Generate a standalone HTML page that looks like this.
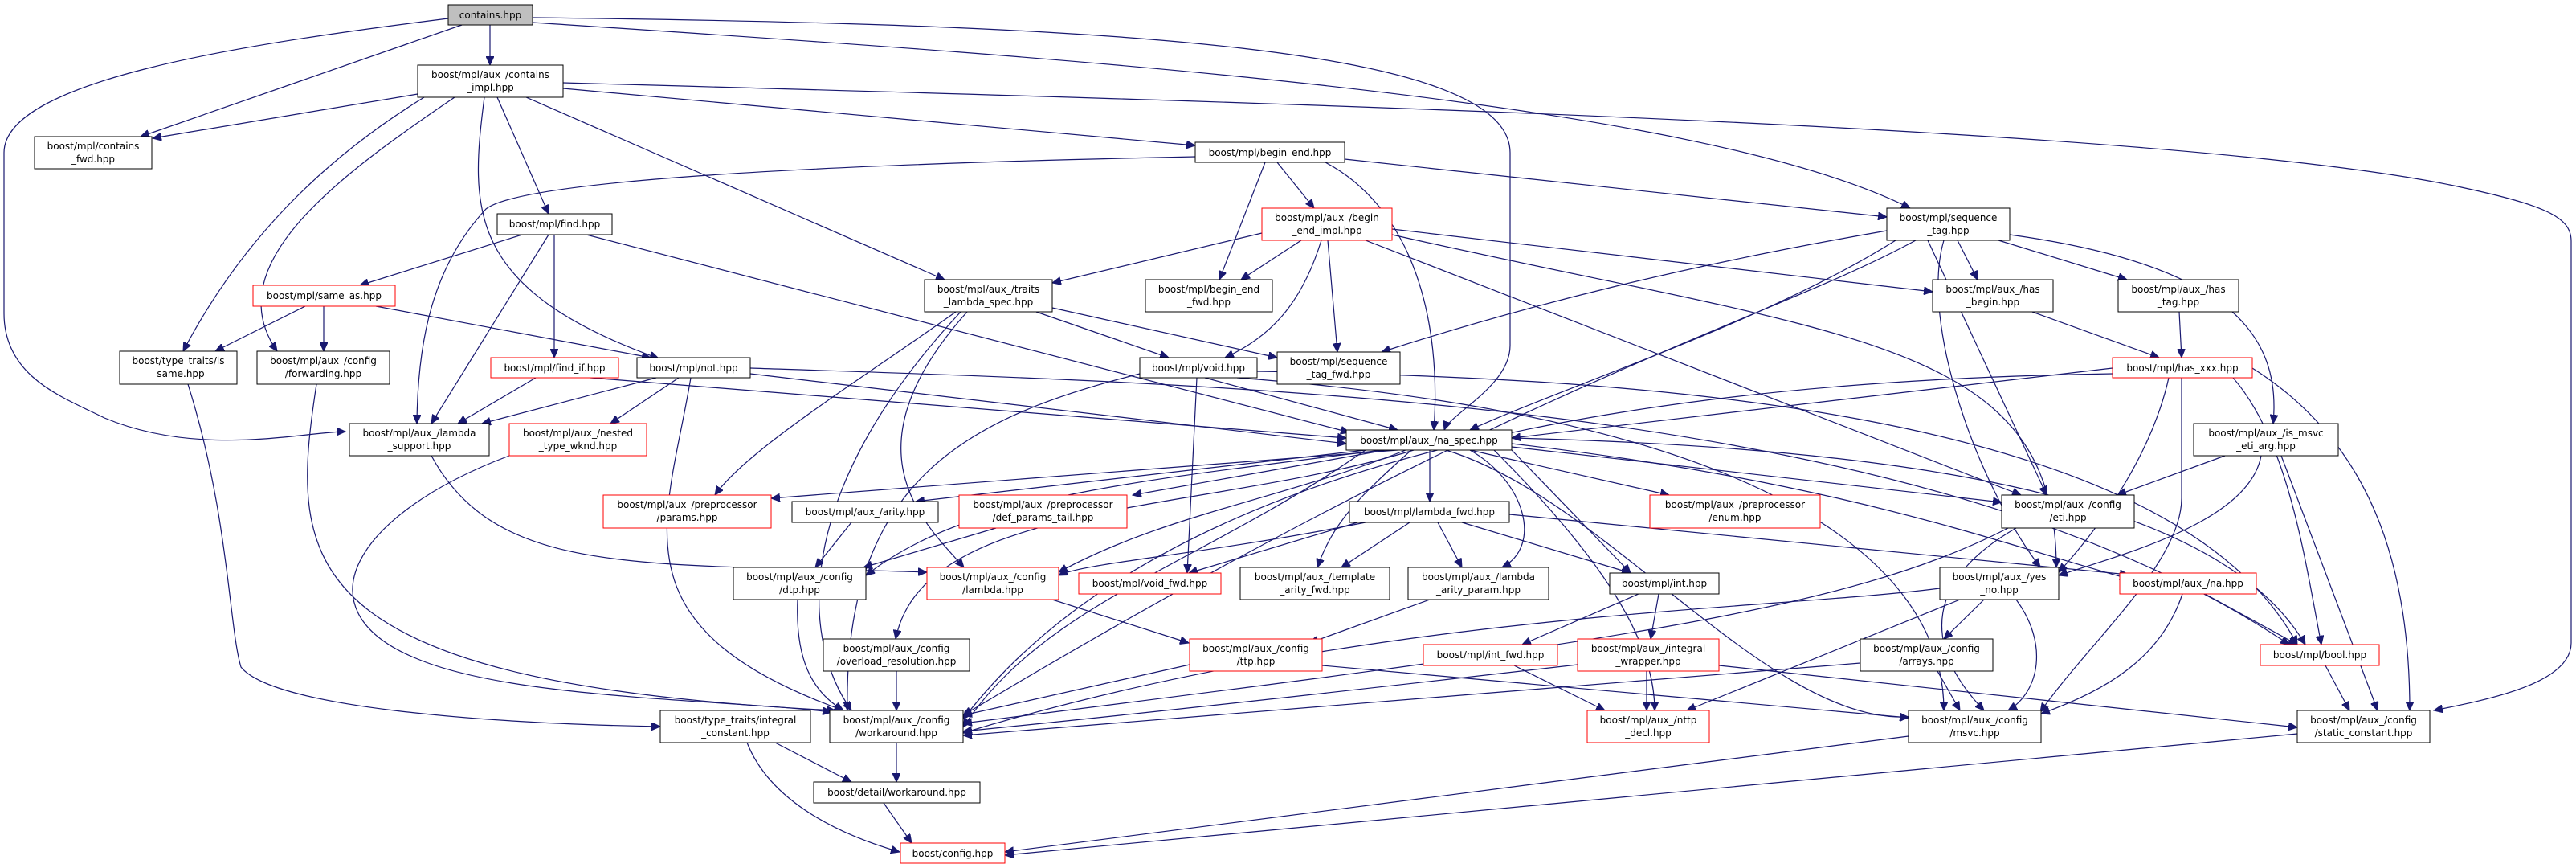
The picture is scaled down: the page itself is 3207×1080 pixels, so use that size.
<!DOCTYPE html>
<html><head><meta charset="utf-8"><style>
html,body{margin:0;padding:0;background:#fff;}
svg{display:block;}
text{font-family:"DejaVu Sans","Liberation Sans",sans-serif;font-size:12px;fill:#000;}
.n{fill:#fff;stroke:#000;stroke-width:1;}
.r{fill:#fff;stroke:#ff0000;stroke-width:1;}
.g{fill:#bfbfbf;stroke:#000;stroke-width:1;}
.e path{fill:none;stroke:#191970;stroke-width:1.2;marker-end:url(#ah);}
</style></head><body>
<svg width="3207" height="1080" xmlns="http://www.w3.org/2000/svg">
<defs><marker id="ah" markerUnits="userSpaceOnUse" markerWidth="12" markerHeight="10" refX="11" refY="5" orient="auto"><path d="M0,0 L11,5 L0,10 z" fill="#191970" stroke="#191970"/></marker></defs>
<g class="e">
<path d="M610,31 L610,81"/>
<path d="M575,31 L175,170"/>
<path d="M558,23 C300,55 5,100 5,190 L5,390 C5,470 80,495 130,520 C250,570 380,537 430,537"/>
<path d="M663,22 C1400,30 1880,60 1880,190 L1880,430 C1880,480 1805,515 1798,535"/>
<path d="M663,28 C1300,70 2100,120 2378,259"/>
<path d="M520,117 L190,172"/>
<path d="M528,121 C400,200 300,300 228,437"/>
<path d="M566,121 C420,220 270,330 345,437"/>
<path d="M603,121 C585,260 580,360 820,446"/>
<path d="M619,121 L683,266"/>
<path d="M655,121 L1176,348"/>
<path d="M701,110 L1488,181"/>
<path d="M701,103 C1700,130 2700,160 3050,230 C3170,255 3201,270 3201,300 L3201,800 C3201,850 3100,870 3030,884"/>
<path d="M650,292 L448,355"/>
<path d="M683,292 L537,527"/>
<path d="M690,292 L690,445"/>
<path d="M730,292 L1680,538"/>
<path d="M380,381 L268,437"/>
<path d="M403,381 L403,437"/>
<path d="M468,381 L810,445"/>
<path d="M234,478 C285,640 285,780 300,830 C340,880 600,900 822,904"/>
<path d="M394,478 C360,700 360,850 1040,884"/>
<path d="M667,470 L570,527"/>
<path d="M735,470 L1676,545"/>
<path d="M817,470 L600,527"/>
<path d="M845,470 L760,527"/>
<path d="M860,470 C830,650 760,780 1050,884"/>
<path d="M934,465 L1676,552"/>
<path d="M934,458 C1600,480 2400,500 2850,802"/>
<path d="M537,567 C620,720 800,700 1154,712"/>
<path d="M634,567 C440,640 370,760 520,820 C640,870 900,870 1035,886"/>
<path d="M1590,202 L1636,259"/>
<path d="M1575,202 L1518,348"/>
<path d="M1674,198 L2349,270"/>
<path d="M1488,195 C1000,205 650,225 605,260 C540,330 520,420 519,527"/>
<path d="M1650,202 C1760,260 1795,400 1785,535"/>
<path d="M1571,290 L1310,352"/>
<path d="M1620,299 L1545,348"/>
<path d="M1645,299 C1620,380 1580,420 1525,445"/>
<path d="M1653,299 L1665,438"/>
<path d="M1733,285 L2406,363"/>
<path d="M1700,299 L2516,616"/>
<path d="M1733,292 C2300,420 2560,420 2560,706"/>
<path d="M1290,388 L1455,445"/>
<path d="M1310,383 L1590,445"/>
<path d="M1190,388 C1060,480 930,560 890,616"/>
<path d="M1196,388 C980,620 1000,800 1060,884"/>
<path d="M1204,388 C1050,560 1150,650 1200,706"/>
<path d="M2349,287 C2100,330 1900,380 1720,438"/>
<path d="M2360,299 C2200,400 1950,480 1830,535"/>
<path d="M2437,299 L2462,348"/>
<path d="M2488,299 L2648,348"/>
<path d="M2502,292 C2780,330 2840,420 2830,527"/>
<path d="M2400,299 L2548,616"/>
<path d="M2420,299 C2390,400 2460,600 2540,706"/>
<path d="M2385,299 C2200,400 1900,470 1199,890"/>
<path d="M2530,388 L2688,445"/>
<path d="M2713,388 L2716,445"/>
<path d="M2630,458 L1882,545"/>
<path d="M2700,470 C2680,560 2620,650 2563,712"/>
<path d="M2780,470 C2850,550 2870,700 2890,802"/>
<path d="M2804,458 C2950,550 3000,700 3000,884"/>
<path d="M2716,470 L2716,620 C2716,700 2600,800 2540,886"/>
<path d="M2630,465 C2300,470 1500,500 1199,895"/>
<path d="M1500,470 L1740,535"/>
<path d="M1490,470 L1478,713"/>
<path d="M1419,465 C1200,520 1050,600 1055,884"/>
<path d="M1565,462 C2000,470 2700,500 2860,802"/>
<path d="M1540,470 C2200,520 2420,700 2420,884"/>
<path d="M2770,567 L2636,616"/>
<path d="M2815,567 C2800,650 2640,690 2563,716"/>
<path d="M2840,567 L2960,884"/>
<path d="M1740,560 L960,620"/>
<path d="M1700,560 L1140,624"/>
<path d="M1725,560 L1410,616"/>
<path d="M1830,560 L2078,616"/>
<path d="M1882,556 L2492,625"/>
<path d="M1780,560 L1780,624"/>
<path d="M1750,560 C1600,620 1450,640 1318,712"/>
<path d="M1720,560 C1400,600 1200,620 1078,716"/>
<path d="M1757,560 C1690,620 1660,650 1640,706"/>
<path d="M1830,560 C1900,600 1920,680 1870,706"/>
<path d="M1882,560 L2030,713"/>
<path d="M1882,552 C2300,600 2500,680 2650,720"/>
<path d="M1882,545 C2500,560 2780,650 2870,802"/>
<path d="M1700,560 C1500,700 1300,750 1199,905"/>
<path d="M1860,560 C2000,700 2060,800 2060,884"/>
<path d="M1800,560 C2000,620 2200,900 2376,892"/>
<path d="M1760,560 C1500,640 1150,620 1115,795"/>
<path d="M1060,650 L1015,706"/>
<path d="M1240,657 L1075,706"/>
<path d="M1690,650 L1480,713"/>
<path d="M1755,650 L1670,706"/>
<path d="M1790,650 L1820,706"/>
<path d="M1820,650 L2030,713"/>
<path d="M1700,650 C1500,690 1350,700 1318,716"/>
<path d="M1879,640 L2650,715"/>
<path d="M1310,746 L1480,800"/>
<path d="M1780,746 L1630,800"/>
<path d="M2040,739 L1895,802"/>
<path d="M2065,739 L2055,795"/>
<path d="M1481,827 L1199,890"/>
<path d="M1646,828 L2376,893"/>
<path d="M1885,828 L1998,884"/>
<path d="M2050,835 L2050,884"/>
<path d="M1964,827 C1500,880 1300,900 1199,910"/>
<path d="M2140,828 L2860,905"/>
<path d="M2510,657 C2400,720 2390,800 2470,884"/>
<path d="M2500,657 C2300,760 2000,800 1199,900"/>
<path d="M2470,746 L2420,795"/>
<path d="M2510,746 C2550,800 2540,860 2500,884"/>
<path d="M2440,746 L2100,884"/>
<path d="M2415,732 C2200,760 1700,760 1199,912"/>
<path d="M2412,835 L2440,884"/>
<path d="M2316,825 L1199,915"/>
<path d="M2745,739 L2860,802"/>
<path d="M2717,739 C2690,820 2620,860 2541,888"/>
<path d="M2895,828 L2925,884"/>
<path d="M993,746 C990,820 1010,860 1050,884"/>
<path d="M1116,835 L1116,884"/>
<path d="M1116,924 L1116,973"/>
<path d="M965,924 L1060,973"/>
<path d="M930,924 C960,1000 1050,1040 1120,1060"/>
<path d="M1100,999 L1135,1049"/>
<path d="M2376,916 L1251,1060"/>
<path d="M2860,913 L1251,1064"/>
</g>
<g>
<rect class="g" x="558" y="6" width="105" height="25"/><text x="610.5" y="23" text-anchor="middle">contains.hpp</text>
<rect class="n" x="520" y="81" width="181" height="40"/><text x="610.5" y="97" text-anchor="middle">boost/mpl/aux_/contains</text><text x="610.5" y="113" text-anchor="middle">_impl.hpp</text>
<rect class="n" x="43" y="170" width="146" height="40"/><text x="116" y="186" text-anchor="middle">boost/mpl/contains</text><text x="116" y="202" text-anchor="middle">_fwd.hpp</text>
<rect class="n" x="619" y="266" width="143" height="26"/><text x="690.5" y="283" text-anchor="middle">boost/mpl/find.hpp</text>
<rect class="r" x="315" y="355" width="177" height="26"/><text x="403.5" y="372" text-anchor="middle">boost/mpl/same_as.hpp</text>
<rect class="n" x="149" y="437" width="146" height="41"/><text x="222" y="453" text-anchor="middle">boost/type_traits/is</text><text x="222" y="469" text-anchor="middle">_same.hpp</text>
<rect class="n" x="320" y="437" width="165" height="41"/><text x="402.5" y="453" text-anchor="middle">boost/mpl/aux_/config</text><text x="402.5" y="469" text-anchor="middle">/forwarding.hpp</text>
<rect class="r" x="611" y="445" width="159" height="25"/><text x="690.5" y="462" text-anchor="middle">boost/mpl/find_if.hpp</text>
<rect class="n" x="793" y="445" width="141" height="25"/><text x="863.5" y="462" text-anchor="middle">boost/mpl/not.hpp</text>
<rect class="n" x="435" y="527" width="174" height="40"/><text x="522" y="543" text-anchor="middle">boost/mpl/aux_/lambda</text><text x="522" y="559" text-anchor="middle">_support.hpp</text>
<rect class="r" x="634" y="527" width="171" height="40"/><text x="719.5" y="543" text-anchor="middle">boost/mpl/aux_/nested</text><text x="719.5" y="559" text-anchor="middle">_type_wknd.hpp</text>
<rect class="n" x="1488" y="177" width="186" height="25"/><text x="1581" y="194" text-anchor="middle">boost/mpl/begin_end.hpp</text>
<rect class="r" x="1571" y="259" width="162" height="40"/><text x="1652" y="275" text-anchor="middle">boost/mpl/aux_/begin</text><text x="1652" y="291" text-anchor="middle">_end_impl.hpp</text>
<rect class="n" x="1151" y="348" width="159" height="40"/><text x="1230.5" y="364" text-anchor="middle">boost/mpl/aux_/traits</text><text x="1230.5" y="380" text-anchor="middle">_lambda_spec.hpp</text>
<rect class="n" x="1426" y="348" width="158" height="40"/><text x="1505" y="364" text-anchor="middle">boost/mpl/begin_end</text><text x="1505" y="380" text-anchor="middle">_fwd.hpp</text>
<rect class="n" x="1419" y="445" width="146" height="25"/><text x="1492" y="462" text-anchor="middle">boost/mpl/void.hpp</text>
<rect class="n" x="1590" y="438" width="153" height="40"/><text x="1666.5" y="454" text-anchor="middle">boost/mpl/sequence</text><text x="1666.5" y="470" text-anchor="middle">_tag_fwd.hpp</text>
<rect class="n" x="1676" y="535" width="206" height="25"/><text x="1779" y="552" text-anchor="middle">boost/mpl/aux_/na_spec.hpp</text>
<rect class="n" x="2349" y="259" width="153" height="40"/><text x="2425.5" y="275" text-anchor="middle">boost/mpl/sequence</text><text x="2425.5" y="291" text-anchor="middle">_tag.hpp</text>
<rect class="n" x="2406" y="348" width="150" height="40"/><text x="2481" y="364" text-anchor="middle">boost/mpl/aux_/has</text><text x="2481" y="380" text-anchor="middle">_begin.hpp</text>
<rect class="n" x="2637" y="348" width="150" height="40"/><text x="2712" y="364" text-anchor="middle">boost/mpl/aux_/has</text><text x="2712" y="380" text-anchor="middle">_tag.hpp</text>
<rect class="r" x="2630" y="445" width="174" height="25"/><text x="2717" y="462" text-anchor="middle">boost/mpl/has_xxx.hpp</text>
<rect class="n" x="2731" y="527" width="180" height="40"/><text x="2821" y="543" text-anchor="middle">boost/mpl/aux_/is_msvc</text><text x="2821" y="559" text-anchor="middle">_eti_arg.hpp</text>
<rect class="r" x="751" y="616" width="209" height="41"/><text x="855.5" y="632" text-anchor="middle">boost/mpl/aux_/preprocessor</text><text x="855.5" y="648" text-anchor="middle">/params.hpp</text>
<rect class="n" x="986" y="624" width="182" height="26"/><text x="1077" y="641" text-anchor="middle">boost/mpl/aux_/arity.hpp</text>
<rect class="r" x="1194" y="616" width="209" height="41"/><text x="1298.5" y="632" text-anchor="middle">boost/mpl/aux_/preprocessor</text><text x="1298.5" y="648" text-anchor="middle">/def_params_tail.hpp</text>
<rect class="r" x="2054" y="616" width="212" height="41"/><text x="2160" y="632" text-anchor="middle">boost/mpl/aux_/preprocessor</text><text x="2160" y="648" text-anchor="middle">/enum.hpp</text>
<rect class="n" x="2492" y="616" width="165" height="41"/><text x="2574.5" y="632" text-anchor="middle">boost/mpl/aux_/config</text><text x="2574.5" y="648" text-anchor="middle">/eti.hpp</text>
<rect class="n" x="1680" y="624" width="199" height="26"/><text x="1779.5" y="641" text-anchor="middle">boost/mpl/lambda_fwd.hpp</text>
<rect class="n" x="913" y="706" width="165" height="40"/><text x="995.5" y="722" text-anchor="middle">boost/mpl/aux_/config</text><text x="995.5" y="738" text-anchor="middle">/dtp.hpp</text>
<rect class="r" x="1154" y="706" width="164" height="40"/><text x="1236" y="722" text-anchor="middle">boost/mpl/aux_/config</text><text x="1236" y="738" text-anchor="middle">/lambda.hpp</text>
<rect class="r" x="1343" y="713" width="177" height="26"/><text x="1431.5" y="730" text-anchor="middle">boost/mpl/void_fwd.hpp</text>
<rect class="n" x="1544" y="706" width="186" height="40"/><text x="1637" y="722" text-anchor="middle">boost/mpl/aux_/template</text><text x="1637" y="738" text-anchor="middle">_arity_fwd.hpp</text>
<rect class="n" x="1753" y="706" width="175" height="40"/><text x="1840.5" y="722" text-anchor="middle">boost/mpl/aux_/lambda</text><text x="1840.5" y="738" text-anchor="middle">_arity_param.hpp</text>
<rect class="n" x="2004" y="713" width="136" height="26"/><text x="2072" y="730" text-anchor="middle">boost/mpl/int.hpp</text>
<rect class="n" x="2415" y="706" width="148" height="40"/><text x="2489" y="722" text-anchor="middle">boost/mpl/aux_/yes</text><text x="2489" y="738" text-anchor="middle">_no.hpp</text>
<rect class="r" x="2639" y="713" width="170" height="26"/><text x="2724" y="730" text-anchor="middle">boost/mpl/aux_/na.hpp</text>
<rect class="n" x="1025" y="795" width="182" height="40"/><text x="1116" y="811" text-anchor="middle">boost/mpl/aux_/config</text><text x="1116" y="827" text-anchor="middle">/overload_resolution.hpp</text>
<rect class="r" x="1481" y="795" width="165" height="40"/><text x="1563.5" y="811" text-anchor="middle">boost/mpl/aux_/config</text><text x="1563.5" y="827" text-anchor="middle">/ttp.hpp</text>
<rect class="r" x="1772" y="802" width="167" height="26"/><text x="1855.5" y="819" text-anchor="middle">boost/mpl/int_fwd.hpp</text>
<rect class="r" x="1964" y="795" width="176" height="40"/><text x="2052" y="811" text-anchor="middle">boost/mpl/aux_/integral</text><text x="2052" y="827" text-anchor="middle">_wrapper.hpp</text>
<rect class="n" x="2316" y="795" width="165" height="40"/><text x="2398.5" y="811" text-anchor="middle">boost/mpl/aux_/config</text><text x="2398.5" y="827" text-anchor="middle">/arrays.hpp</text>
<rect class="r" x="2814" y="802" width="148" height="26"/><text x="2888" y="819" text-anchor="middle">boost/mpl/bool.hpp</text>
<rect class="n" x="822" y="884" width="187" height="40"/><text x="915.5" y="900" text-anchor="middle">boost/type_traits/integral</text><text x="915.5" y="916" text-anchor="middle">_constant.hpp</text>
<rect class="n" x="1033" y="884" width="166" height="40"/><text x="1116" y="900" text-anchor="middle">boost/mpl/aux_/config</text><text x="1116" y="916" text-anchor="middle">/workaround.hpp</text>
<rect class="r" x="1976" y="884" width="152" height="40"/><text x="2052" y="900" text-anchor="middle">boost/mpl/aux_/nttp</text><text x="2052" y="916" text-anchor="middle">_decl.hpp</text>
<rect class="n" x="2376" y="884" width="165" height="40"/><text x="2458.5" y="900" text-anchor="middle">boost/mpl/aux_/config</text><text x="2458.5" y="916" text-anchor="middle">/msvc.hpp</text>
<rect class="n" x="2860" y="884" width="165" height="40"/><text x="2942.5" y="900" text-anchor="middle">boost/mpl/aux_/config</text><text x="2942.5" y="916" text-anchor="middle">/static_constant.hpp</text>
<rect class="n" x="1013" y="973" width="207" height="26"/><text x="1116.5" y="990" text-anchor="middle">boost/detail/workaround.hpp</text>
<rect class="r" x="1121" y="1049" width="130" height="25"/><text x="1186" y="1066" text-anchor="middle">boost/config.hpp</text>
</g>
</svg>
</body></html>
